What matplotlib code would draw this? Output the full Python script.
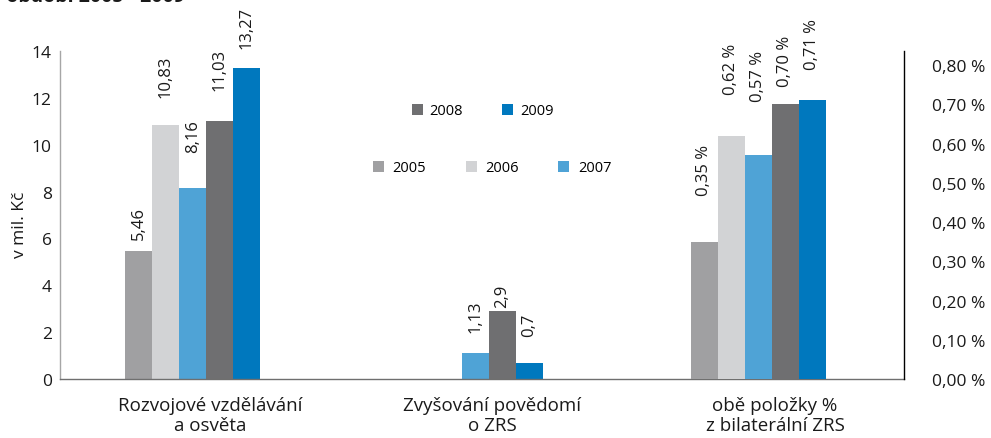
import numpy as np
import matplotlib
matplotlib.use("Agg")
import matplotlib.pyplot as plt

plt.rcParams['font.family'] = ['Open Sans', 'DejaVu Sans']

# ---- data ----
categories = ["Rozvojové vzdělávání\na osvěta", "Zvyšování povědomí\no ZRS", "obě položky %\nz bilaterální ZRS"]
years = ["2005", "2006", "2007", "2008", "2009"]
rozvoj = [5.46, 10.83, 8.16, 11.03, 13.27]          # mil. Kč
povedomi = [np.nan, np.nan, 1.13, 2.9, 0.7]          # mil. Kč
podil = [0.35, 0.62, 0.57, 0.70, 0.71]               # % z bilaterální ZRS
left_ticks = [0, 2, 4, 6, 8, 10, 12, 14]
right_ticks = [0.0, 0.1, 0.2, 0.3, 0.4, 0.5, 0.6, 0.7, 0.8]

# ---- style ----
colors = ["#a0a0a2", "#d2d3d5", "#4fa3d6", "#6f6f71", "#0078be"]
gaps_px = [[12, 28, 36, 31, 20], [0, 0, 21, 4, 27], [47, 42, 54, 18, 31]]

W, H, DPI = 991, 439, 100
fig = plt.figure(figsize=(W / DPI, H / DPI), dpi=DPI)
ax = fig.add_axes([60 / W, 1 - 380 / H, 844 / W, 328 / H])
ax2 = ax.twinx()

unit = 282.75
ax.set_xlim(-(193 - 60) / unit, 2 + (904 - 758) / unit)
ax.set_ylim(0, 14)
ax2.set_ylim(0, 0.8 * 328 / 314)

bw = 27 / unit
x = np.arange(len(categories))
handles = []
for k, yr in enumerate(years):
    off = (k - 2) * bw
    b = ax.bar(x[:2] + off, [rozvoj[k], povedomi[k]], width=bw, color=colors[k],
               label=yr, linewidth=0)
    ax2.bar(x[2] + off, podil[k], width=bw, color=colors[k], linewidth=0)
    handles.append(b)
    for gi, (axis, val) in enumerate([(ax, rozvoj[k]), (ax, povedomi[k]), (ax2, podil[k])]):
        if np.isnan(val):
            continue
        if gi == 2:
            txt = f"{val:.2f} %".replace(".", ",")
        else:
            txt = f"{val:g}".replace(".", ",")
        axis.annotate(txt, (x[gi] + off, val), xytext=(0, gaps_px[gi][k] * 72 / DPI),
                      textcoords="offset points", rotation=90, ha="center", va="bottom",
                      fontsize=12, color="#1a1a1a")

# axes styling
ax.spines["top"].set_visible(False)
ax2.spines["top"].set_visible(False)
ax.spines["right"].set_visible(False)
ax2.spines["left"].set_visible(False)
ax2.spines["bottom"].set_visible(False)
ax.spines["left"].set_color("#a6a6a6")
ax.spines["bottom"].set_color("#6f6f6f")
ax2.spines["right"].set_color("#000000")
for sp in [ax.spines["left"], ax.spines["bottom"], ax2.spines["right"]]:
    sp.set_linewidth(1.0)

ax.set_yticks(left_ticks)
ax.set_yticklabels([str(t) for t in left_ticks])
ax2.set_yticks(right_ticks)
ax2.set_yticklabels([f"{t:.2f} %".replace(".", ",") for t in right_ticks])
ax.tick_params(axis="y", length=0, pad=6, labelsize=12.5, labelcolor="#1a1a1a")
ax2.tick_params(axis="y", length=0, pad=20, labelsize=12.5, labelcolor="#1a1a1a")

ax.set_xticks(x + 17 / unit)
ax.set_xticklabels(categories, fontsize=13.5, color="#1a1a1a", linespacing=1.2)
ax.tick_params(axis="x", length=0, pad=12)

ax.set_ylabel("v mil. Kč", fontsize=12.5, color="#1a1a1a")
ax.yaxis.set_label_coords((28 - 60) / 844, (380 - 225) / 328)

# legends (two rows, as in the reference)
fig.legend(handles=handles[3:], labels=years[3:], loc="center left",
           bbox_to_anchor=(412 / W, 1 - 112 / H), ncol=2, frameon=False,
           fontsize=10.5, handlelength=0.75, handleheight=0.75,
           handletextpad=0.45, columnspacing=2.7, borderpad=0, borderaxespad=0)
fig.legend(handles=handles[:3], labels=years[:3], loc="center left",
           bbox_to_anchor=(373 / W, 1 - 169 / H), ncol=3, frameon=False,
           fontsize=10.5, handlelength=0.75, handleheight=0.75,
           handletextpad=0.6, columnspacing=2.7, borderpad=0, borderaxespad=0)

# cropped title remnant at the very top
fig.text(185 / W, 1 - 1.5 / H, "v období 2005 - 2009", ha="right", va="baseline",
         fontsize=14, fontweight="bold", color="#1a1a1a")

fig.savefig("out.png", dpi=DPI)
